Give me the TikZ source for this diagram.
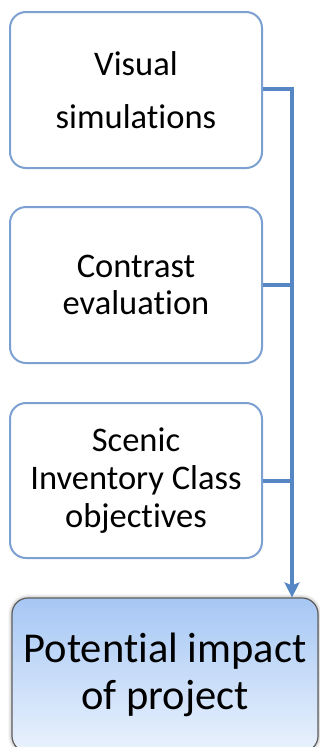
\documentclass[tikz,border=0pt]{standalone}
\usepackage{fontspec}
\setmainfont{Carlito}[RawFeature=-liga]
\usetikzlibrary{arrows.meta,shadows.blur}
\definecolor{linecol}{RGB}{86,134,196}
\definecolor{boxborder}{RGB}{124,160,209}
\definecolor{impborder}{RGB}{95,95,95}
\definecolor{imptop}{RGB}{166,199,244}
\definecolor{impbot}{RGB}{234,242,253}
\tikzset{
  inbox/.style={draw=boxborder, line width=2pt, fill=white, rounded corners=16pt,
    minimum width=252pt, align=center, inner sep=0pt, text=black},
  impbox/.style={draw=impborder, line width=1.2pt, rounded corners=16pt,
    top color=imptop, bottom color=impbot, minimum width=306pt, minimum height=154pt,
    align=center, inner sep=0pt, text=black,
    blur shadow={shadow xshift=0pt, shadow yshift=0pt, shadow blur radius=4pt, shadow opacity=45}},
  busline/.style={draw=linecol, line width=4pt, line join=miter},
}
\begin{document}
\begin{tikzpicture}[x=1pt,y=-1pt]
\useasboundingbox (0,0) rectangle (320,747);
\node[inbox, minimum height=156pt, font=\fontsize{34.5}{53}\selectfont] (b1) at (136,90) {Visual\\simulations};
\node[inbox, minimum height=156pt, font=\fontsize{34.5}{37}\selectfont] (b2) at (136,285) {Contrast\\evaluation};
\node[inbox, minimum height=155pt, font=\fontsize{34.5}{38}\selectfont] (b3) at (136,480.5) {Scenic\\Inventory Class\\objectives};
\node[impbox, font=\fontsize{42.5}{47}\selectfont] (b4) at (165,675) {Potential impact\\of project};
\coordinate (bus) at (292,89);
\draw[busline, -{Stealth[length=15pt,width=15pt,inset=3pt]}] (b1.east |- bus) -- (bus) -- (bus |- b4.north);
\draw[busline] (b2.east) -- (b2.east -| bus);
\draw[busline] (b3.east) -- (b3.east -| bus);
\end{tikzpicture}
\end{document}
